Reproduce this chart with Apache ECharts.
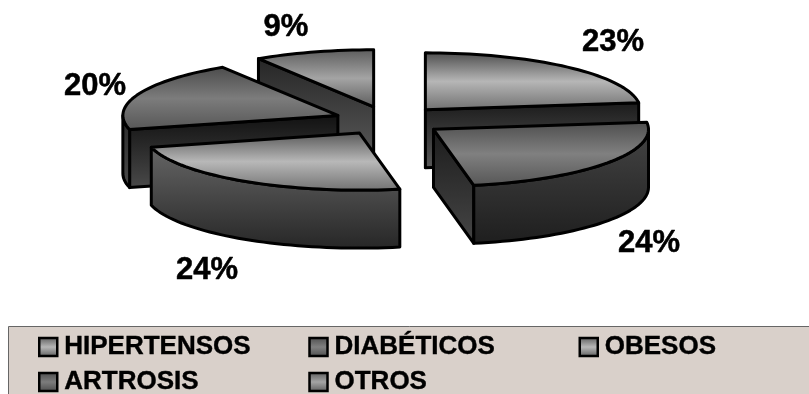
<!DOCTYPE html>
<html><head><meta charset="utf-8">
<style>html,body{margin:0;padding:0;background:#fff}#c{width:809px;height:394px}</style>
<script src="https://cdn.jsdelivr.net/npm/echarts@6/dist/echarts.min.js"></script>
</head><body><div id="c"></div>
<script>
const categories = ['HIPERTENSOS','DIABÉTICOS','OBESOS','ARTROSIS','OTROS'];
const values = [23,24,24,20,9];

// layout & style, by slice
const CX=389, CY=120.8, RX=215, RY=57, DEPTH=58, EXPLODE=55;
const zOf=[3,5,4,2,1];
const labelAt=[[613,42],[649,243],[207,270],[95,86],[286,27]];
const topStops=[['#4a4a4a','#b6b6b6','#6e6e6e'],['#4c4c4c','#808080','#555555'],['#555555','#b8b8b8','#707070'],['#4a4a4a','#7c7c7c','#555555'],['#5a5a5a','#a4a4a4','#5a5a5a']];
const arcStops=[['#3a3a3a','#1c1c1c'],['#444444','#1e1e1e'],['#666666','#262626'],['#2a2a2a','#4a4a4a'],['#333','#555']];
const faceStops=[['#1a1a1a','#5a5a5a'],['#1c1c1c','#464646'],['#333','#555'],['#111111','#4a4a4a'],['#262626','#5c5c5c']];
const legendStops=[['#5a5a5a','#b6b6b6','#5a5a5a'],['#4c4c4c','#808080','#4c4c4c'],['#5a5a5a','#b8b8b8','#5a5a5a'],['#4a4a4a','#7c7c7c','#4a4a4a'],['#5a5a5a','#a4a4a4','#5a5a5a']];

const total=values.reduce((a,b)=>a+b,0);
const lin=c=>({type:'linear',x:0,y:0,x2:0,y2:1,colorStops:c.map((col,i)=>({offset:i/(c.length-1),color:col}))});
const STROKE={stroke:'#000',lineWidth:3,lineJoin:'round'};

function sliceChildren(idx){
  let acc=0; for(let i=0;i<idx;i++) acc+=values[i];
  const a0=acc/total*360, a1=(acc+values[idx])/total*360, mid=(a0+a1)/2;
  const rad=d=>d*Math.PI/180;
  const ax=CX+EXPLODE*Math.sin(rad(mid)), ay=CY-EXPLODE*RY/RX*Math.cos(rad(mid));
  const P=(d,h=0)=>[ax+RX*Math.sin(rad(d)), ay-RY*Math.cos(rad(d))+h];
  const arc=(s,e,h=0)=>{const n=Math.max(2,Math.ceil((e-s)/2)),o=[];for(let i=0;i<=n;i++)o.push(P(s+(e-s)*i/n,h));return o;};
  const kids=[];
  const poly=(pts,fill)=>kids.push({type:'polygon',shape:{points:pts},style:Object.assign({fill},STROKE)});
  const face=(d,c)=>poly([[ax,ay],P(d),P(d,DEPTH),[ax,ay+DEPTH]],lin(c));
  if(Math.cos(rad(a0-90))<-1e-6) face(a0,faceStops[idx]);
  if(Math.cos(rad(a1+90))<-1e-6) face(a1,faceStops[idx]);
  const s=Math.max(a0,90), e=Math.min(a1,270);
  if(e>s) poly(arc(s,e).concat(arc(s,e,DEPTH).reverse()),lin(arcStops[idx]));
  poly([[ax,ay]].concat(arc(a0,a1)),lin(topStops[idx]));
  kids.push({type:'text',z2:10,style:{text:Math.round(values[idx]/total*100)+'%',x:labelAt[idx][0],y:labelAt[idx][1],align:'center',verticalAlign:'middle',font:'bold 31px "Liberation Sans",Arial,sans-serif',fill:'#000',stroke:'#000',lineWidth:0.5}});
  return kids;
}

const series=categories.map((name,i)=>({
  type:'custom',name,coordinateSystem:'none',z:zOf[i],
  itemStyle:{color:lin(legendStops[i])},
  data:[values[i]],
  silent:true,animation:false,
  renderItem:()=>({type:'group',children:sliceChildren(i)})
}));

const chart=echarts.init(document.getElementById('c'),null,{renderer:'canvas'});
chart.setOption({
  animation:false,
  backgroundColor:'#fff',
  graphic:[{type:'rect',z:-1,shape:{x:8.5,y:326.5,width:900,height:120},style:{fill:'#d9d0ca',stroke:'#666',lineWidth:1}}],
  legend:{
    left:38,top:333,width:820,orient:'horizontal',
    icon:'rect',itemWidth:18,itemHeight:18,itemGap:7,selectedMode:false,
    padding:0,
    data:categories.map((name,i)=>({name,itemStyle:{color:lin(legendStops[i]),borderColor:'#000',borderWidth:2.5}})),
    textStyle:{fontFamily:'"Liberation Sans",Arial,sans-serif',fontWeight:'bold',fontSize:26,color:'#000',width:237,overflow:'none',padding:[0,0,0,2],lineHeight:28,textBorderColor:'#000',textBorderWidth:0.4}
  },
  series
});
</script></body></html>
